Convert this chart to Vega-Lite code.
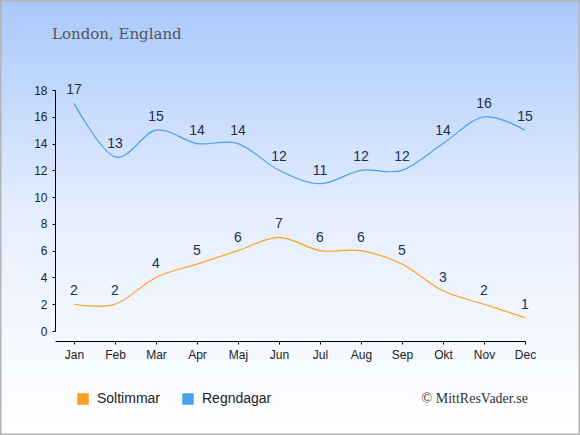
{
  "$schema": "https://vega.github.io/schema/vega-lite/v6.json",
  "width": 580,
  "height": 435,
  "autosize": {"type": "none"},
  "padding": 0,
  "background": "#ffffff",
  "title": {
    "text": "London, England",
    "anchor": "start",
    "orient": "top",
    "frame": "group",
    "offset": -54,
    "dx": 52,
    "baseline": "alphabetic",
    "font": "DejaVu Serif",
    "fontSize": 15,
    "fontWeight": "normal",
    "color": "#555555"
  },
  "datasets": {
    "months": [
      {"m": 1, "serie": "Soltimmar", "v": 2},
      {"m": 2, "serie": "Soltimmar", "v": 2},
      {"m": 3, "serie": "Soltimmar", "v": 4},
      {"m": 4, "serie": "Soltimmar", "v": 5},
      {"m": 5, "serie": "Soltimmar", "v": 6},
      {"m": 6, "serie": "Soltimmar", "v": 7},
      {"m": 7, "serie": "Soltimmar", "v": 6},
      {"m": 8, "serie": "Soltimmar", "v": 6},
      {"m": 9, "serie": "Soltimmar", "v": 5},
      {"m": 10, "serie": "Soltimmar", "v": 3},
      {"m": 11, "serie": "Soltimmar", "v": 2},
      {"m": 12, "serie": "Soltimmar", "v": 1},
      {"m": 1, "serie": "Regndagar", "v": 17},
      {"m": 2, "serie": "Regndagar", "v": 13},
      {"m": 3, "serie": "Regndagar", "v": 15},
      {"m": 4, "serie": "Regndagar", "v": 14},
      {"m": 5, "serie": "Regndagar", "v": 14},
      {"m": 6, "serie": "Regndagar", "v": 12},
      {"m": 7, "serie": "Regndagar", "v": 11},
      {"m": 8, "serie": "Regndagar", "v": 12},
      {"m": 9, "serie": "Regndagar", "v": 12},
      {"m": 10, "serie": "Regndagar", "v": 14},
      {"m": 11, "serie": "Regndagar", "v": 16},
      {"m": 12, "serie": "Regndagar", "v": 15}
    ]
  },
  "layer": [
    {
      "data": {"name": "months"},
      "mark": {"type": "line", "interpolate": "cardinal", "strokeWidth": 1.2},
      "encoding": {
        "x": {
          "field": "m",
          "type": "quantitative",
          "scale": {"domain": [0.537, 12], "range": [55, 525], "nice": false, "zero": false},
          "axis": {
            "orient": "bottom",
            "offset": -94,
            "values": [1, 2, 3, 4, 5, 6, 7, 8, 9, 10, 11, 12],
            "labelExpr": "['Jan','Feb','Mar','Apr','Maj','Jun','Jul','Aug','Sep','Okt','Nov','Dec'][datum.value - 1]",
            "labelFlush": false,
            "labelOverlap": false,
            "title": null,
            "grid": false,
            "domainColor": "#000000",
            "tickColor": "#000000",
            "tickSize": 3,
            "labelPadding": 5,
            "labelFont": "Liberation Sans",
            "labelFontSize": 12,
            "labelColor": "#222222"
          }
        },
        "y": {
          "field": "v",
          "type": "quantitative",
          "scale": {"domain": [0, 18], "range": [331, 90], "nice": false},
          "axis": {
            "orient": "left",
            "offset": -55,
            "values": [0, 2, 4, 6, 8, 10, 12, 14, 16, 18],
            "title": null,
            "grid": false,
            "domainColor": "#000000",
            "tickColor": "#000000",
            "tickSize": 3,
            "labelPadding": 5,
            "labelFont": "Liberation Sans",
            "labelFontSize": 12,
            "labelColor": "#222222"
          }
        },
        "color": {
          "field": "serie",
          "type": "nominal",
          "scale": {"domain": ["Soltimmar", "Regndagar"], "range": ["#ff9f1f", "#4aa0ec"]},
          "legend": {
            "orient": "none",
            "legendX": 76,
            "legendY": 392,
            "direction": "horizontal",
            "title": null,
            "symbolType": "square",
            "symbolSize": 100,
            "labelFont": "Liberation Sans",
            "labelFontSize": 14,
            "labelColor": "#222222",
            "labelOffset": 7,
            "columnPadding": 19,
            "encode": {
              "symbols": {
                "update": {
                  "fill": {"scale": "color", "field": "value"},
                  "stroke": {"value": "transparent"},
                  "fillOpacity": {"value": 1}
                }
              }
            }
          }
        }
      }
    },
    {
      "data": {"name": "months"},
      "mark": {"type": "text", "dy": -13, "font": "Liberation Sans", "fontSize": 14, "color": "#1e2f4f"},
      "encoding": {
        "x": {"field": "m", "type": "quantitative"},
        "y": {"field": "v", "type": "quantitative"},
        "text": {"field": "v", "type": "quantitative"}
      }
    },
    {
      "data": {"values": [{"txt": "© MittResVader.se"}]},
      "mark": {"type": "text", "align": "right", "baseline": "alphabetic", "font": "Liberation Serif", "fontSize": 14, "color": "#333333"},
      "encoding": {
        "x": {"datum": 12.07, "type": "quantitative"},
        "y": {"datum": -5.35, "type": "quantitative"},
        "text": {"field": "txt", "type": "nominal"}
      }
    }
  ],
  "config": {
    "view": {
      "fill": {
        "gradient": "linear",
        "x1": 0, "y1": 0, "x2": 0, "y2": 1,
        "stops": [
          {"offset": 0, "color": "#a8c8fb"},
          {"offset": 0.5, "color": "#e6effe"},
          {"offset": 1, "color": "#ffffff"}
        ]
      },
      "stroke": "#b4b4b4",
      "strokeWidth": 3
    }
  }
}
